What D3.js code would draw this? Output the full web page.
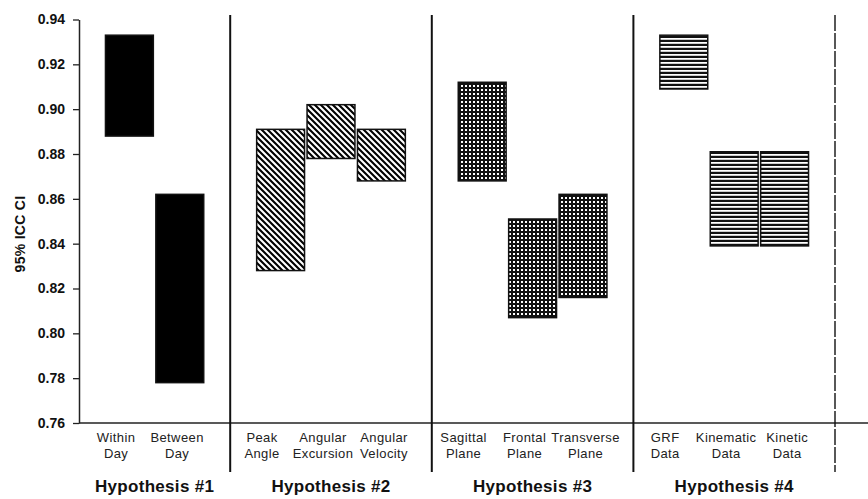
<!DOCTYPE html>
<html>
<head>
<meta charset="utf-8">
<script src="https://cdn.jsdelivr.net/npm/d3@7"></script>
<style>
  body { margin: 0; background: #fff; }
  svg { display: block; font-family: "Liberation Sans", Arial, sans-serif; }
</style>
</head>
<body>
<svg id="chart"></svg>
<script>
// data
var groupNames = ["Hypothesis #1", "Hypothesis #2", "Hypothesis #3", "Hypothesis #4"];
var categories = ["Within Day", "Between Day",
                  "Peak Angle", "Angular Excursion", "Angular Velocity",
                  "Sagittal Plane", "Frontal Plane", "Transverse Plane",
                  "GRF Data", "Kinematic Data", "Kinetic Data"];
var categoryGroup = [0, 0, 1, 1, 1, 2, 2, 2, 3, 3, 3];
var lowerCI = [0.888, 0.778, 0.828, 0.878, 0.868, 0.868, 0.807, 0.816, 0.909, 0.839, 0.839];
var upperCI = [0.933, 0.862, 0.891, 0.902, 0.891, 0.912, 0.851, 0.862, 0.933, 0.881, 0.881];
var yTicks = [0.76, 0.78, 0.80, 0.82, 0.84, 0.86, 0.88, 0.90, 0.92, 0.94];
var yTitle = "95% ICC CI";

var screen = {width: 868, height: 499};
var svg = d3.select("#chart")
    .attr("width", screen.width)
    .attr("height", screen.height);

// slots: a blank start, then each group's categories followed by a divider
var slots = ["start"];
groupNames.forEach(function(g, gi){
    categories.forEach(function(c, ci){
        if (categoryGroup[ci] == gi) slots.push(c);
    });
    slots.push("sep" + gi);
});

var xScale = d3.scalePoint()
    .domain(slots)
    .range([79, 835]);

var yScale = d3.scaleLinear()
    .domain([d3.min(yTicks), d3.max(yTicks)])
    .range([423, 19.5]);

var barWidth = xScale.step() * 0.95;

var groupLeft = function(i){ return i == 0 ? xScale("start") : xScale("sep" + (i - 1)); };
var groupCenter = function(i){ return (groupLeft(i) + xScale("sep" + i)) / 2; };

// fill patterns per group
var defs = svg.append("defs");

defs.append("pattern").attr("id", "pat0")
    .attr("patternUnits", "userSpaceOnUse").attr("width", 4).attr("height", 4)
    .append("rect").attr("width", 4).attr("height", 4).attr("fill", "#000");

var diag = defs.append("pattern").attr("id", "pat1")
    .attr("patternUnits", "userSpaceOnUse").attr("width", 6).attr("height", 6);
diag.append("rect").attr("width", 6).attr("height", 6).attr("fill", "#fff");
diag.append("path")
    .attr("d", "M-1,-1 L7,7 M-4,2 L2,8 M2,-4 L8,2")
    .attr("stroke", "#000").attr("stroke-width", 2.1);

var checker = defs.append("pattern").attr("id", "pat2")
    .attr("patternUnits", "userSpaceOnUse").attr("width", 4).attr("height", 4);
checker.append("rect").attr("width", 4).attr("height", 4).attr("fill", "#111");
checker.append("rect").attr("x", 1).attr("y", 1).attr("width", 2).attr("height", 2).attr("fill", "#fff");

var horiz = defs.append("pattern").attr("id", "pat3")
    .attr("patternUnits", "userSpaceOnUse").attr("width", 4).attr("height", 4);
horiz.append("rect").attr("width", 4).attr("height", 4).attr("fill", "#fff");
horiz.append("rect").attr("y", 0).attr("width", 4).attr("height", 2).attr("fill", "#111");
horiz.append("rect").attr("y", 3).attr("width", 4).attr("height", 0.6).attr("fill", "#aaa");

// bars (floating CI ranges)
svg.append("g")
    .selectAll("rect")
    .data(categories)
    .enter()
    .append("rect")
    .attr("x", function(c){ return xScale(c) - barWidth / 2; })
    .attr("width", barWidth)
    .attr("y", function(c, i){ return yScale(upperCI[i]); })
    .attr("height", function(c, i){ return yScale(lowerCI[i]) - yScale(upperCI[i]); })
    .attr("fill", function(c, i){ return "url(#pat" + categoryGroup[i] + ")"; })
    .attr("stroke", "#111")
    .attr("stroke-width", 1.5);

// y axis
var yAxis = d3.axisLeft(yScale)
    .tickValues(yTicks)
    .tickFormat(d3.format(".2f"))
    .tickSize(6)
    .tickSizeOuter(0)
    .tickPadding(8);

var yG = svg.append("g")
    .attr("transform", "translate(79,0)")
    .call(yAxis);
yG.select(".domain").attr("stroke", "#222").attr("stroke-width", 1.5);
yG.selectAll(".tick line").attr("stroke", "#222").attr("stroke-width", 1.3);
yG.selectAll(".tick text")
    .attr("font-family", "'Liberation Sans', Arial, sans-serif")
    .attr("font-size", 14)
    .attr("font-weight", "bold")
    .attr("fill", "#111");

svg.append("text")
    .attr("transform", "translate(25,234) rotate(-90)")
    .attr("text-anchor", "middle")
    .attr("font-size", 14)
    .attr("font-weight", "bold")
    .attr("letter-spacing", 0.3)
    .attr("fill", "#111")
    .text(yTitle);

// x axis baseline
svg.append("line")
    .attr("x1", 79).attr("x2", screen.width)
    .attr("y1", yScale(d3.min(yTicks))).attr("y2", yScale(d3.min(yTicks)))
    .attr("stroke", "#222").attr("stroke-width", 1.5);

// group dividers
svg.append("g")
    .selectAll("line")
    .data(groupNames)
    .enter()
    .append("line")
    .attr("x1", function(g, i){ return xScale("sep" + i); })
    .attr("x2", function(g, i){ return xScale("sep" + i); })
    .attr("y1", 15)
    .attr("y2", 472)
    .attr("stroke", "#111")
    .attr("stroke-width", function(g, i){ return i == groupNames.length - 1 ? 1.4 : 2; })
    .attr("stroke-dasharray", function(g, i){ return i == groupNames.length - 1 ? "16,2" : null; });

// category labels, two lines, spread a little wider than the bars
var labelStep = 61;
var catLabels = svg.append("g")
    .selectAll("text")
    .data(categories)
    .enter()
    .append("text")
    .attr("text-anchor", "middle")
    .attr("font-size", 13)
    .attr("letter-spacing", 0.4)
    .attr("fill", "#222");

catLabels.selectAll("tspan")
    .data(function(c, ci){
        var gi = categoryGroup[ci];
        var members = categories.filter(function(d, j){ return categoryGroup[j] == gi; });
        var k = members.indexOf(c);
        var x = groupCenter(gi) + (k - (members.length - 1) / 2) * labelStep - 8;
        return c.split(" ").map(function(w){ return {word: w, x: x}; });
    })
    .enter()
    .append("tspan")
    .attr("x", function(d){ return d.x; })
    .attr("y", function(d, i){ return 442 + i * 15.5; })
    .text(function(d){ return d.word; });

// group labels centred between dividers
svg.append("g")
    .selectAll("text")
    .data(groupNames)
    .enter()
    .append("text")
    .attr("x", function(g, i){ return groupCenter(i); })
    .attr("y", 492)
    .attr("text-anchor", "middle")
    .attr("font-size", 17)
    .attr("font-weight", "bold")
    .attr("letter-spacing", 0.3)
    .attr("fill", "#111")
    .text(function(g){ return g; });
</script>
</body>
</html>
